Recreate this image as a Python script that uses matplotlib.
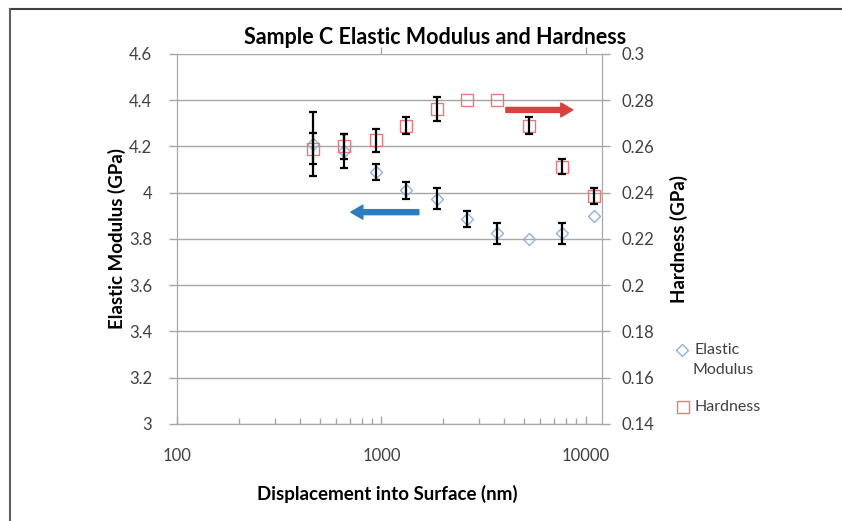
import numpy as np
import matplotlib
matplotlib.use("Agg")
import matplotlib.pyplot as plt
from matplotlib.lines import Line2D

plt.rcParams['font.family'] = ['Lato', 'DejaVu Sans']

# Displacement into surface (nm)
displacement = [462, 656, 940, 1318, 1867, 2618, 3673, 5261, 7640, 10940]

# Elastic modulus (GPa) and error (0 = no bar)
modulus = [4.21, 4.18, 4.09, 4.01, 3.975, 3.886, 3.824, 3.80, 3.824, 3.90]
modulus_err = [0.137, 0.075, 0.033, 0.036, 0.046, 0.036, 0.047, 0, 0.047, 0]

# Hardness (GPa) and error
hardness = [0.259, 0.260, 0.2626, 0.269, 0.2762, 0.280, 0.280, 0.269, 0.2513, 0.2386]
hardness_err = [0.0067, 0.0055, 0.005, 0.0037, 0.0053, 0, 0, 0.0037, 0.0033, 0.0036]

blue = '#8db3e2'
red = '#e8777a'
grid_c = '#a6a6a6'
text_c = '#404040'

fig = plt.figure(figsize=(8.42, 5.21), dpi=100)
ax = fig.add_axes([0.2102, 0.1862, 0.5048, 0.7102])
ax2 = ax.twinx()

x = np.array(displacement)
m = np.array(modulus)
me = np.array(modulus_err)
h = np.array(hardness)
he = np.array(hardness_err)

# markers
ax.plot(x, m, linestyle='none', marker='D', markersize=6.5, markerfacecolor='none',
        markeredgecolor=blue, markeredgewidth=1.0, zorder=3)
ax2.plot(x, h, linestyle='none', marker='s', markersize=8.5, markerfacecolor='none',
         markeredgecolor=red, markeredgewidth=1.0, zorder=3)

# error bars only where there is an error
sel = me > 0
ax.errorbar(x[sel], m[sel], yerr=me[sel], fmt='none', ecolor='black',
            elinewidth=1.6, capsize=3, capthick=1.6, zorder=4)
sel = he > 0
ax2.errorbar(x[sel], h[sel], yerr=he[sel], fmt='none', ecolor='black',
             elinewidth=1.6, capsize=3, capthick=1.6, zorder=4)

# axes
ax.set_xscale('log')
ax.set_xlim(100, 12000)
ax.set_ylim(3, 4.6)
ax2.set_ylim(0.14, 0.3)
ax.set_yticks(np.arange(3, 4.61, 0.2))
ax.set_yticklabels(['3', '3.2', '3.4', '3.6', '3.8', '4', '4.2', '4.4', '4.6'])
ax2.set_yticks(np.arange(0.14, 0.301, 0.02))
ax2.set_yticklabels(['0.14', '0.16', '0.18', '0.2', '0.22', '0.24', '0.26', '0.28', '0.3'])
ax.set_xticks([100, 1000, 10000])
ax.set_xticklabels(['100', '1000', '10000'])

ax.grid(axis='y', color=grid_c, linewidth=1.0)
ax.set_axisbelow(True)
for a in (ax, ax2):
    for s in a.spines.values():
        s.set_color(grid_c)
    a.spines['top'].set_visible(False)

ax.tick_params(axis='y', direction='out', length=6, width=1, color=grid_c,
               labelsize=12, pad=12, labelcolor=text_c)
ax2.tick_params(axis='y', direction='out', length=6, width=1, color=grid_c,
                labelsize=12, pad=8, labelcolor=text_c)
ax.tick_params(axis='x', which='major', direction='in', length=6, width=1, color=grid_c,
               labelsize=12, pad=17, labelcolor=text_c)
ax.tick_params(axis='x', which='minor', direction='in', length=4, width=1, color=grid_c)

top = ax.secondary_xaxis('top')
top.set_xticks([1000, 10000])
top.tick_params(axis='x', direction='out', length=5, width=1, color=grid_c, labeltop=False)
top.xaxis.set_minor_locator(matplotlib.ticker.NullLocator())
top.spines['top'].set_visible(False)

ax.set_xlabel('Displacement into Surface (nm)', fontsize=13.5, fontweight='bold')
ax.xaxis.set_label_coords(0.494, -0.165)
ax.set_ylabel('Elastic Modulus (GPa)', fontsize=13.5, fontweight='bold')
ax.yaxis.set_label_coords(-0.12, 0.5)
ax2.set_ylabel('Hardness (GPa)', fontsize=13.5, fontweight='bold')
ax2.yaxis.set_label_coords(1.16, 0.5)
fig.text(435 / 842, 1 - 38 / 521, 'Sample C Elastic Modulus and Hardness',
         fontsize=15.5, fontweight='bold', ha='center', va='center')

# direction arrows
ax2.annotate('', xy=(8630, 0.2758), xytext=(4064, 0.2758),
             arrowprops=dict(arrowstyle='simple,head_length=0.43,head_width=0.5,tail_width=0.18',
                             color='#d9413e', mutation_scale=20, shrinkA=0, shrinkB=0), zorder=5)
ax.annotate('', xy=(709, 3.916), xytext=(1524, 3.916),
            arrowprops=dict(arrowstyle='simple,head_length=0.43,head_width=0.5,tail_width=0.18',
                            color='#2e7bbd', mutation_scale=20, shrinkA=0, shrinkB=0), zorder=5)

# legend (drawn by hand to match the two-line label layout)
fig.add_artist(Line2D([682 / 842], [1 - 350 / 521], transform=fig.transFigure, linestyle='none',
                      marker='D', markersize=6.5, markerfacecolor='none',
                      markeredgecolor=blue, markeredgewidth=1.0))
fig.text(695 / 842, 1 - 350 / 521, 'Elastic', fontsize=11.5, color=text_c, va='center')
fig.text(692 / 842, 1 - 370 / 521, 'Modulus', fontsize=11.5, color=text_c, va='center')
fig.add_artist(Line2D([683 / 842], [1 - 407 / 521], transform=fig.transFigure, linestyle='none',
                      marker='s', markersize=8.5, markerfacecolor='none',
                      markeredgecolor=red, markeredgewidth=1.0))
fig.text(695 / 842, 1 - 407 / 521, 'Hardness', fontsize=11.5, color=text_c, va='center')

# outer frame (top and left)
fig.add_artist(Line2D([10 / 842, 1], [1 - 9 / 521, 1 - 9 / 521], transform=fig.transFigure,
                      color='#404040', linewidth=1.5))
fig.add_artist(Line2D([10 / 842, 10 / 842], [0, 1 - 9 / 521], transform=fig.transFigure,
                      color='#606060', linewidth=1.5))

fig.savefig('out.png', dpi=100)
